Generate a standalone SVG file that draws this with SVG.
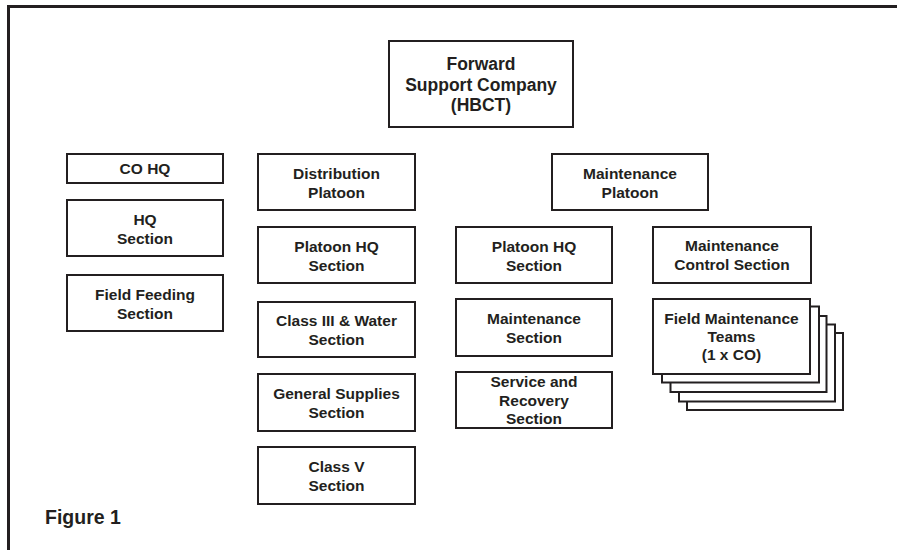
<svg xmlns="http://www.w3.org/2000/svg" width="897" height="550" viewBox="0 0 897 550">
<style>
.b{fill:#fff;stroke:#231f20;stroke-width:2}
.t{font-family:"Liberation Sans",Arial,sans-serif;font-weight:bold;font-size:15.5px;fill:#231f20;text-anchor:middle}
.big{font-size:17.5px}
.frame{stroke:#231f20;stroke-width:3;fill:none}
</style>
<rect width="897" height="550" fill="#fff"/>
<g id="frame">
<path class="frame" d="M8.5,550 V6.5 H897"/>
</g>
<g id="connectors"></g>
<g id="fsc">
<rect class="b" x="389" y="41" width="184" height="86"/>
<text class="t big" x="481" y="70">Forward</text>
<text class="t big" x="481" y="90.5">Support Company</text>
<text class="t big" x="481" y="111">(HBCT)</text>
</g>
<g id="cohq">
<rect class="b" x="67" y="154" width="156" height="29"/>
<text class="t" x="145" y="174">CO HQ</text>
</g>
<g id="hqsection">
<rect class="b" x="67" y="200" width="156" height="56"/>
<text class="t" x="145" y="225">HQ</text>
<text class="t" x="145" y="244">Section</text>
</g>
<g id="fieldfeeding">
<rect class="b" x="67" y="275" width="156" height="56"/>
<text class="t" x="145" y="300">Field Feeding</text>
<text class="t" x="145" y="319">Section</text>
</g>
<g id="distplt">
<rect class="b" x="258" y="154" width="157" height="56"/>
<text class="t" x="336.5" y="179">Distribution</text>
<text class="t" x="336.5" y="198">Platoon</text>
</g>
<g id="distplthq">
<rect class="b" x="258" y="227" width="157" height="56"/>
<text class="t" x="336.5" y="252">Platoon HQ</text>
<text class="t" x="336.5" y="271">Section</text>
</g>
<g id="class3">
<rect class="b" x="258" y="302" width="157" height="55"/>
<text class="t" x="336.5" y="326">Class III &amp; Water</text>
<text class="t" x="336.5" y="345">Section</text>
</g>
<g id="gensup">
<rect class="b" x="258" y="374" width="157" height="57"/>
<text class="t" x="336.5" y="399">General Supplies</text>
<text class="t" x="336.5" y="418">Section</text>
</g>
<g id="class5">
<rect class="b" x="258" y="447" width="157" height="57"/>
<text class="t" x="336.5" y="472">Class V</text>
<text class="t" x="336.5" y="491">Section</text>
</g>
<g id="maintplt">
<rect class="b" x="552" y="154" width="156" height="56"/>
<text class="t" x="630" y="179">Maintenance</text>
<text class="t" x="630" y="198">Platoon</text>
</g>
<g id="maintplthq">
<rect class="b" x="456" y="227" width="156" height="56"/>
<text class="t" x="534" y="252">Platoon HQ</text>
<text class="t" x="534" y="271">Section</text>
</g>
<g id="maintsection">
<rect class="b" x="456" y="299" width="156" height="57"/>
<text class="t" x="534" y="324">Maintenance</text>
<text class="t" x="534" y="343">Section</text>
</g>
<g id="svcrec">
<rect class="b" x="456" y="372" width="156" height="56"/>
<text class="t" x="534" y="387">Service and</text>
<text class="t" x="534" y="405.5">Recovery</text>
<text class="t" x="534" y="424">Section</text>
</g>
<g id="maintctl">
<rect class="b" x="653" y="227" width="158" height="56"/>
<text class="t" x="732" y="251">Maintenance</text>
<text class="t" x="732" y="270">Control Section</text>
</g>
<g id="fmt">
<rect class="b" x="687" y="333" width="156" height="77"/>
<rect class="b" x="679" y="324.5" width="156" height="77"/>
<rect class="b" x="670.5" y="316" width="156" height="76"/>
<rect class="b" x="662" y="306.5" width="157" height="76"/>
<rect class="b" x="653" y="299" width="157" height="75"/>
<text class="t" x="731.5" y="324">Field Maintenance</text>
<text class="t" x="731.5" y="342">Teams</text>
<text class="t" x="731.5" y="359.5">(1 x CO)</text>
</g>
<g id="caption">
<text class="t" x="45" y="524" style="text-anchor:start;font-size:19.5px">Figure 1</text>
</g>
</svg>
